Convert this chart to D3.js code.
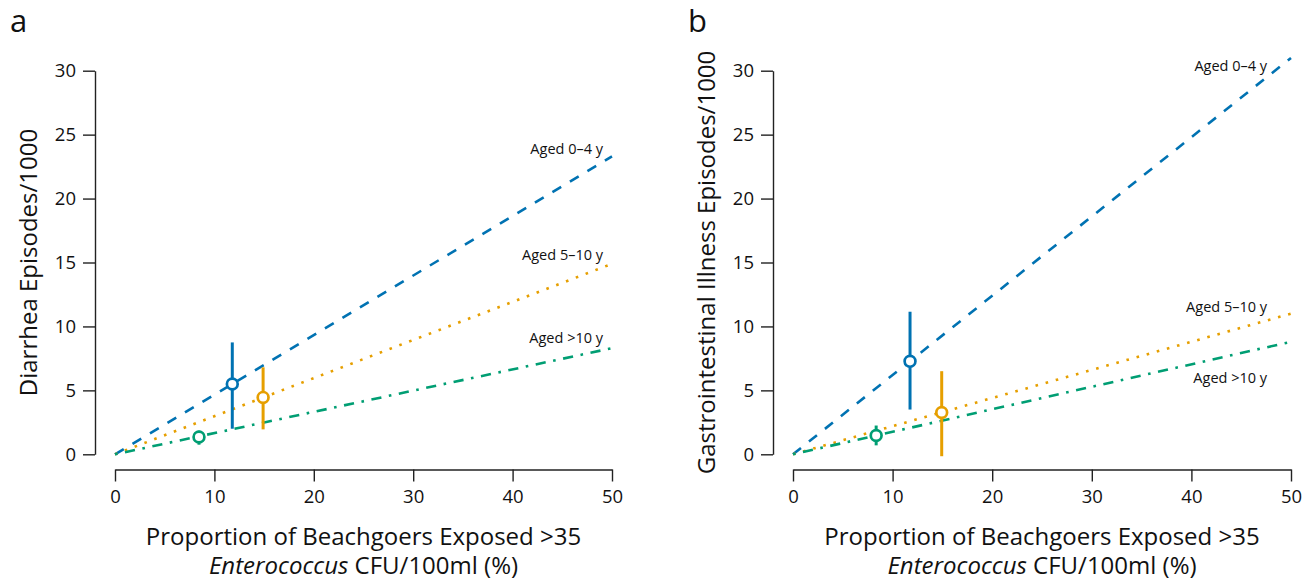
<!DOCTYPE html>
<html>
<head>
<meta charset="utf-8">
<script src="https://cdn.jsdelivr.net/npm/d3@7"></script>
<style>
  body { margin: 0; background: #fff; }
  svg { display: block; font-family: "Open Sans", "DejaVu Sans", sans-serif; }
  .axis path, .axis line { stroke: #222; stroke-width: 1.4; }
  .axis text { font-size: 18.5px; fill: #111; font-family: "Open Sans", sans-serif; }
</style>
</head>
<body>
<svg id="chart"></svg>
<script>
// age groups and colours
const groups = ["Aged 0\u20134 y", "Aged 5\u201310 y", "Aged >10 y"];
const colors = ["#0072B2", "#E69F00", "#009E73"];
const dashes = ["10.2,10.2", "2.6,7.9", "2.6,7.6,10.2,7.6"];

const xTicks = [0, 10, 20, 30, 40, 50];
const yTicks = [0, 5, 10, 15, 20, 25, 30];

// fitted lines run from x = 0 to x = 50
const lineX = [0, 50];
const diarrheaLineStart = [0, 0, 0];
const diarrheaLineEnd = [23.3, 14.9, 8.3];
const giLineStart = [0, 0, 0];
const giLineEnd = [31.0, 11.0, 8.8];

// observed estimates with intervals
const diarrheaX = [11.8, 14.9, 8.45];
const diarrheaEst = [5.5, 4.45, 1.35];
const diarrheaLow = [2.0, 1.95, 0.75];
const diarrheaHigh = [8.75, 6.8, 1.85];

const giX = [11.75, 14.93, 8.35];
const giEst = [7.27, 3.27, 1.47];
const giLow = [3.5, -0.15, 0.7];
const giHigh = [11.15, 6.5, 2.25];

const width = 1314, height = 581;
const svg = d3.select("#chart").attr("width", width).attr("height", height);

function drawPanel(p) {
    let x = d3.scaleLinear().domain([0, 50]).range([p.left, p.right]);
    let y = d3.scaleLinear().domain([0, 30]).range([454.3, 70.7]);

    let g = svg.append("g");

    // axes, offset from the plotting region
    g.append("g")
        .attr("class", "axis")
        .attr("transform", `translate(${p.left - 20},0)`)
        .call(d3.axisLeft(y).tickValues(yTicks).tickSize(12).tickSizeOuter(0).tickPadding(7));

    g.append("g")
        .attr("class", "axis")
        .attr("transform", "translate(0,469.5)")
        .call(d3.axisBottom(x).tickValues(xTicks).tickSize(12).tickSizeOuter(0).tickPadding(8));

    // fitted lines
    let lines = groups.map((name, i) => ({
        name: name,
        pts: [[lineX[0], p.start[i]], [lineX[1], p.end[i]]]
    }));
    let line = d3.line().x(d => x(d[0])).y(d => y(d[1]));

    g.append("g")
        .selectAll("path")
        .data(lines)
        .join("path")
        .attr("d", d => line(d.pts))
        .attr("fill", "none")
        .attr("stroke", (d, i) => colors[i])
        .attr("stroke-width", 2.6)
        .attr("stroke-dasharray", (d, i) => dashes[i]);

    // line labels
    g.append("g")
        .selectAll("text")
        .data(groups)
        .join("text")
        .attr("x", x(p.labelX))
        .attr("y", (d, i) => y(p.labelY[i]))
        .attr("text-anchor", "end")
        .attr("font-size", 14.5)
        .attr("fill", "#111")
        .text(d => d);

    // error bars
    let pts = groups.map((name, i) => ({
        x: p.px[i], est: p.est[i], lo: p.lo[i], hi: p.hi[i], i: i
    }));

    g.append("g")
        .selectAll("line")
        .data(pts)
        .join("line")
        .attr("x1", d => x(d.x))
        .attr("x2", d => x(d.x))
        .attr("y1", d => y(d.lo))
        .attr("y2", d => y(d.hi))
        .attr("stroke", d => colors[d.i])
        .attr("stroke-width", 3);

    g.append("g")
        .selectAll("circle")
        .data(pts)
        .join("circle")
        .attr("cx", d => x(d.x))
        .attr("cy", d => y(d.est))
        .attr("r", 5.4)
        .attr("fill", "#fff")
        .attr("stroke", d => colors[d.i])
        .attr("stroke-width", 2.7);

    // axis titles
    g.append("text")
        .attr("transform", `translate(${p.left - 78},262.5) rotate(-90)`)
        .attr("text-anchor", "middle")
        .attr("font-size", 24)
        .attr("fill", "#111")
        .text(p.yTitle);

    let xt = g.append("text")
        .attr("text-anchor", "middle")
        .attr("font-size", 24)
        .attr("fill", "#111");
    xt.append("tspan")
        .attr("x", (p.left + p.right) / 2)
        .attr("y", 545)
        .text("Proportion of Beachgoers Exposed >35");
    let l2 = xt.append("tspan")
        .attr("x", (p.left + p.right) / 2)
        .attr("y", 573.5);
    l2.append("tspan").attr("font-style", "italic").text("Enterococcus");
    l2.append("tspan").text(" CFU/100ml (%)");

    // panel letter
    g.append("text")
        .attr("x", p.left - 105)
        .attr("y", 32)
        .attr("font-size", 31)
        .attr("fill", "#111")
        .text(p.letter);
}

drawPanel({
    letter: "a", left: 115, right: 612,
    yTitle: "Diarrhea Episodes/1000",
    start: diarrheaLineStart, end: diarrheaLineEnd,
    px: diarrheaX, est: diarrheaEst, lo: diarrheaLow, hi: diarrheaHigh,
    labelX: 49.1, labelY: [23.5, 15.2, 8.7]
});

drawPanel({
    letter: "b", left: 793, right: 1291,
    yTitle: "Gastrointestinal Illness Episodes/1000",
    start: giLineStart, end: giLineEnd,
    px: giX, est: giEst, lo: giLow, hi: giHigh,
    labelX: 47.6, labelY: [30.0, 11.1, 5.55]
});
</script>
</body>
</html>
